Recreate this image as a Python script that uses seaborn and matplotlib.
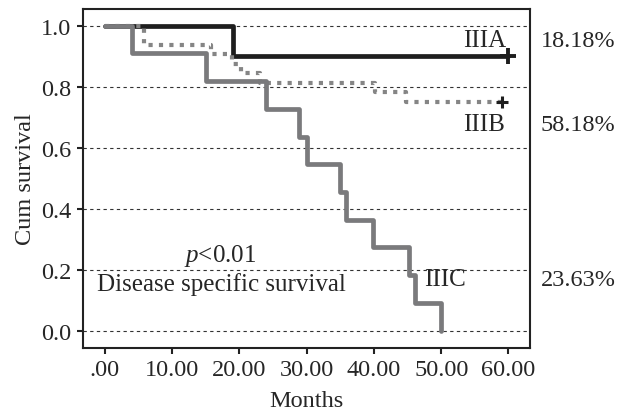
import matplotlib
matplotlib.use("Agg")
import matplotlib.pyplot as plt
import pandas as pd
import seaborn as sns

# Kaplan-Meier step data (months, cumulative survival)
iiia_months = [0, 19.0, 60.0]
iiia_surv = [1.0, 0.9, 0.9]

iiib_months = [0, 5.8, 15.8, 18.9, 20.3, 23.0, 40.1, 44.8, 59.1]
iiib_surv = [1.0, 0.9375, 0.906, 0.875, 0.844, 0.8125, 0.781, 0.75, 0.75]

iiic_months = [0, 4.0, 15.0, 24.0, 28.9, 30.0, 34.9, 35.9, 39.8, 45.2, 46.1, 49.9]
iiic_surv = [1.0, 0.909, 0.818, 0.727, 0.636, 0.545, 0.455, 0.364, 0.273, 0.182, 0.091, 0.0]

x_ticks = [0, 10, 20, 30, 40, 50, 60]
x_tick_labels = [".00", "10.00", "20.00", "30.00", "40.00", "50.00", "60.00"]
y_ticks = [0.0, 0.2, 0.4, 0.6, 0.8, 1.0]
stage_shares = ["18.18%", "58.18%", "23.63%"]

sns.set_style("ticks")
plt.rcParams["font.family"] = ["Liberation Serif", "DejaVu Serif"]
plt.rcParams["mathtext.fontset"] = "custom"
plt.rcParams["mathtext.rm"] = "Liberation Serif"
plt.rcParams["mathtext.it"] = "Liberation Serif:italic"

df_a = pd.DataFrame({"month": iiia_months, "surv": iiia_surv})
df_b = pd.DataFrame({"month": iiib_months, "surv": iiib_surv})
df_c = pd.DataFrame({"month": iiic_months, "surv": iiic_surv})

fig = plt.figure(figsize=(6.25, 4.14), dpi=100)
ax = fig.add_axes([0.1323, 0.157, 0.7157, 0.819])

# grid lines
for yv in y_ticks:
    ax.axhline(yv, color="#333333", lw=0.8, ls=(0, (3, 3)), zorder=1)

sns.lineplot(data=df_a, x="month", y="surv", ax=ax, color="#1e1e1e",
             lw=3.4, drawstyle="steps-post", zorder=3)
sns.lineplot(data=df_b, x="month", y="surv", ax=ax, color="#858585",
             lw=3.0, drawstyle="steps-post", zorder=4,
             dashes=False, linestyle=(0, (1.0, 1.5)))
ax.lines[-1].set_dash_capstyle("butt")
sns.lineplot(data=df_c, x="month", y="surv", ax=ax, color="#7a7a7c",
             lw=3.4, drawstyle="steps-post", zorder=5)

# censoring marks
ax.plot(iiia_months[-1], iiia_surv[-1], marker="+", ms=11, mew=2.8,
        color="#1e1e1e", zorder=6)
ax.plot(iiib_months[-1], iiib_surv[-1], marker="+", ms=8, mew=2.2,
        color="#1e1e1e", zorder=6)

fs = 17.5
afs = 18
ax.text(56.4, 0.953, "IIIA", fontsize=afs, ha="center", va="center")
ax.text(56.4, 0.678, "IIIB", fontsize=afs, ha="center", va="center")
ax.text(50.6, 0.170, "IIIC", fontsize=afs, ha="center", va="center")
ax.text(17.2, 0.248, r"$p$<0.01", fontsize=afs, ha="center", va="center")
ax.text(17.3, 0.153, "Disease specific survival", fontsize=afs,
        ha="center", va="center")

for yv, lab in zip([0.953, 0.675, 0.167], stage_shares):
    ax.text(64.75, yv, lab, fontsize=fs, ha="left", va="center", clip_on=False)

ax.set_xlim(-3.3, 63.2)
ax.set_ylim(-0.057, 1.055)
ax.set_xticks(x_ticks)
ax.set_xticklabels(x_tick_labels)
ax.set_yticks(y_ticks)
ax.set_yticklabels([f"{v:.1f}" for v in y_ticks])
ax.tick_params(axis="both", labelsize=fs, length=4, width=1.5,
               color="#222222", pad=4)
ax.set_xlabel("Months", fontsize=fs, labelpad=7)
ax.set_ylabel("Cum survival", fontsize=fs, labelpad=4)

for sp in ax.spines.values():
    sp.set_linewidth(1.5)
    sp.set_color("#222222")
    sp.set_visible(True)

fig.savefig("out.png", dpi=100)
